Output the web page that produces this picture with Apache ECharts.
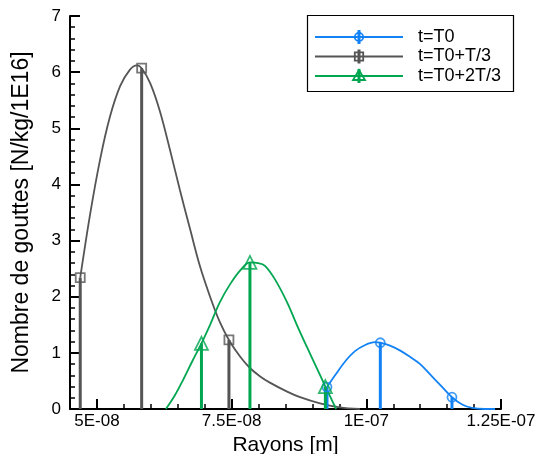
<!DOCTYPE html>
<html>
<head>
<meta charset="utf-8">
<script src="https://cdn.jsdelivr.net/npm/echarts@6/dist/echarts.min.js"></script>
<style>
html,body{margin:0;padding:0;background:#fff;}
#chart{width:540px;height:454px;}
</style>
</head>
<body>
<div id="chart"></div>
<script>
// ---- data (x in metres, y in N/kg/1E16) ----
const seriesNames = ['t=T0', 't=T0+T/3', 't=T0+2T/3'];
const xLabelTicks = [5e-8, 7.5e-8, 1e-7, 1.25e-7];

// t=T0 (blue)
const blueCurveX = [9.27e-8, 9.42e-8, 9.61e-8, 9.79e-8, 9.98e-8, 10.16e-8, 10.26e-8, 10.44e-8, 10.63e-8, 10.81e-8, 11.00e-8, 11.18e-8, 11.37e-8, 11.59e-8, 11.78e-8, 11.96e-8, 12.20e-8, 12.39e-8];
const blueCurveY = [0.39, 0.60, 0.85, 1.03, 1.14, 1.19, 1.18, 1.13, 1.04, 0.93, 0.80, 0.62, 0.43, 0.21, 0.08, 0.02, 0.0, 0.0];
const bluePtsX = [9.27e-8, 10.26e-8, 11.59e-8];
const bluePtsY = [0.39, 1.18, 0.21];

// t=T0+T/3 (grey)
const greyCurveX = [4.69e-8, 4.87e-8, 5.06e-8, 5.24e-8, 5.43e-8, 5.61e-8, 5.74e-8, 5.83e-8, 5.99e-8, 6.17e-8, 6.36e-8, 6.54e-8, 6.73e-8, 6.91e-8, 7.10e-8, 7.28e-8, 7.45e-8, 7.66e-8, 7.84e-8, 8.03e-8, 8.21e-8, 8.53e-8, 8.77e-8, 9.14e-8, 9.51e-8, 9.88e-8];
const greyCurveY = [2.34, 3.45, 4.45, 5.20, 5.75, 6.04, 6.12, 6.07, 5.80, 5.30, 4.60, 3.90, 3.20, 2.55, 2.00, 1.55, 1.23, 0.93, 0.73, 0.58, 0.47, 0.31, 0.21, 0.10, 0.03, 0.0];
const greyPtsX = [4.69e-8, 5.83e-8, 7.45e-8];
const greyPtsY = [2.34, 6.07, 1.23];

// t=T0+2T/3 (green)
const greenCurveX = [6.28e-8, 6.45e-8, 6.60e-8, 6.77e-8, 6.94e-8, 7.10e-8, 7.28e-8, 7.47e-8, 7.66e-8, 7.84e-8, 7.99e-8, 8.12e-8, 8.31e-8, 8.53e-8, 8.71e-8, 8.90e-8, 9.07e-8, 9.24e-8, 9.35e-8, 9.44e-8];
const greenCurveY = [0.0, 0.25, 0.52, 0.85, 1.17, 1.50, 1.90, 2.22, 2.47, 2.61, 2.60, 2.55, 2.30, 1.90, 1.50, 1.10, 0.75, 0.40, 0.18, 0.0];
const greenPtsX = [6.94e-8, 7.84e-8, 9.24e-8];
const greenPtsY = [1.17, 2.61, 0.40];

// ---- styling ----
const BLUE = '#1282f5', GREY = '#555555', GREEN = '#00a650';
const FONT = '"Liberation Sans", Arial, sans-serif';

function zip(a, b) { return a.map((v, i) => [v, b[i]]); }
function sci(v) {
  if (v === 0) return '0';
  const e = Math.floor(Math.log10(Math.abs(v)) + 1e-9);
  let m = Math.round(v / Math.pow(10, e) * 1000) / 1000;
  const es = (e < 0 ? '-' : '+') + String(Math.abs(e)).padStart(2, '0');
  return String(m) + 'E' + es;
}

function dropSeries(xs, ys, color) {
  return {
    type: 'custom',
    xAxisIndex: 0, yAxisIndex: 0,
    data: zip(xs, ys),
    z: 3,
    silent: true,
    renderItem: function (params, api) {
      const p0 = api.coord([api.value(0), 0]);
      const p1 = api.coord([api.value(0), api.value(1)]);
      return { type: 'line', shape: { x1: p0[0], y1: p0[1], x2: p1[0], y2: p1[1] },
               style: { stroke: color, lineWidth: 3 } };
    }
  };
}
function curveSeries(name, xs, ys, color) {
  return { name: name, type: 'line', data: zip(xs, ys), smooth: 0.35, showSymbol: false,
           lineStyle: { color: color, width: 1.8 }, z: 2, silent: true };
}
function markerSeries(xs, ys, color, symbol, size) {
  return { type: 'scatter', data: zip(xs, ys), symbol: symbol, symbolSize: size,
           itemStyle: { color: 'rgba(0,0,0,0)', borderColor: color, borderWidth: 1.8 }, z: 4, silent: true };
}

const chart = echarts.init(document.getElementById('chart'), null, { renderer: 'canvas' });

const legendRows = [
  { y: 37, color: BLUE, sym: 'circle', text: seriesNames[0] },
  { y: 56.5, color: GREY, sym: 'square', text: seriesNames[1] },
  { y: 76, color: GREEN, sym: 'triangle', text: seriesNames[2] }
];
const graphics = [{
  type: 'rect', shape: { x: 307.5, y: 15.5, width: 206, height: 76 },
  style: { fill: '#fff', stroke: '#000', lineWidth: 1.2 }, z: 10
}];
legendRows.forEach(r => {
  graphics.push({ type: 'line', shape: { x1: 315, y1: r.y, x2: 403, y2: r.y }, style: { stroke: r.color, lineWidth: 1.8 }, z: 11 });
  graphics.push({ type: 'line', shape: { x1: 359, y1: r.y - 7, x2: 359, y2: r.y + 7 }, style: { stroke: r.color, lineWidth: 3 }, z: 11 });
  if (r.sym === 'circle') graphics.push({ type: 'circle', shape: { cx: 359, cy: r.y, r: 4.2 }, style: { fill: 'none', stroke: r.color, lineWidth: 1.8 }, z: 12 });
  if (r.sym === 'square') graphics.push({ type: 'rect', shape: { x: 354.8, y: r.y - 4.2, width: 8.4, height: 8.4 }, style: { fill: 'none', stroke: r.color, lineWidth: 1.8 }, z: 12 });
  if (r.sym === 'triangle') graphics.push({ type: 'polygon', shape: { points: [[359, r.y - 6], [365, r.y + 4], [353, r.y + 4]] }, style: { fill: 'none', stroke: r.color, lineWidth: 1.8 }, z: 12 });
  graphics.push({ type: 'text', x: 418, y: r.y, style: { text: r.text, font: '18px ' + FONT, fill: '#000', textVerticalAlign: 'middle', textAlign: 'left' }, z: 12 });
});

const option = {
  animation: false,
  backgroundColor: '#fff',
  textStyle: { fontFamily: FONT },
  grid: { left: 70, right: 39, top: 16, bottom: 45, containLabel: false, outerBoundsMode: 'none' },
  xAxis: [{
    type: 'value', min: 4.5e-8, max: 1.25e-7, position: 'bottom',
    name: 'Rayons [m]', nameLocation: 'middle', nameGap: 23,
    nameTextStyle: { fontSize: 21, color: '#000', fontFamily: FONT },
    axisLine: { show: true, onZero: false, lineStyle: { color: '#000', width: 2 } },
    axisTick: { show: true, inside: true, length: 10, customValues: xLabelTicks, lineStyle: { color: '#000', width: 2 } },
    axisLabel: { show: true, customValues: xLabelTicks, formatter: sci, fontSize: 17, color: '#000', margin: 4, fontFamily: FONT },
    splitLine: { show: false }
  }, {
    type: 'value', min: 4.5e-8, max: 1.25e-7, interval: 5e-9, position: 'bottom',
    axisLine: { show: false },
    axisTick: { show: true, inside: true, length: 5, lineStyle: { color: '#000', width: 1.5 } },
    axisLabel: { show: false },
    splitLine: { show: false }
  }],
  yAxis: [{
    type: 'value', min: 0, max: 7, interval: 1,
    name: 'Nombre de gouttes [N/kg/1E16]', nameLocation: 'middle', nameGap: 37,
    nameTextStyle: { fontSize: 23, color: '#000', fontFamily: FONT },
    axisLine: { show: true, onZero: false, lineStyle: { color: '#000', width: 2 } },
    axisTick: { show: true, inside: true, length: 10, lineStyle: { color: '#000', width: 2 } },
    minorTick: { show: true, splitNumber: 5, length: 5, lineStyle: { color: '#000', width: 1.5 } },
    axisLabel: { fontSize: 17, color: '#000', margin: 9, fontFamily: FONT },
    splitLine: { show: false }
  }],
  series: [
    curveSeries(seriesNames[0], blueCurveX, blueCurveY, BLUE),
    curveSeries(seriesNames[1], greyCurveX, greyCurveY, GREY),
    curveSeries(seriesNames[2], greenCurveX, greenCurveY, GREEN),
    dropSeries(bluePtsX, bluePtsY, BLUE),
    dropSeries(greyPtsX, greyPtsY, GREY),
    dropSeries(greenPtsX, greenPtsY, GREEN),
    markerSeries(bluePtsX, bluePtsY, BLUE, 'circle', 9),
    markerSeries(greyPtsX, greyPtsY, GREY, 'rect', 9),
    markerSeries(greenPtsX, greenPtsY, GREEN, 'triangle', 13)
  ],
  graphic: graphics
};
chart.setOption(option);
</script>
</body>
</html>
